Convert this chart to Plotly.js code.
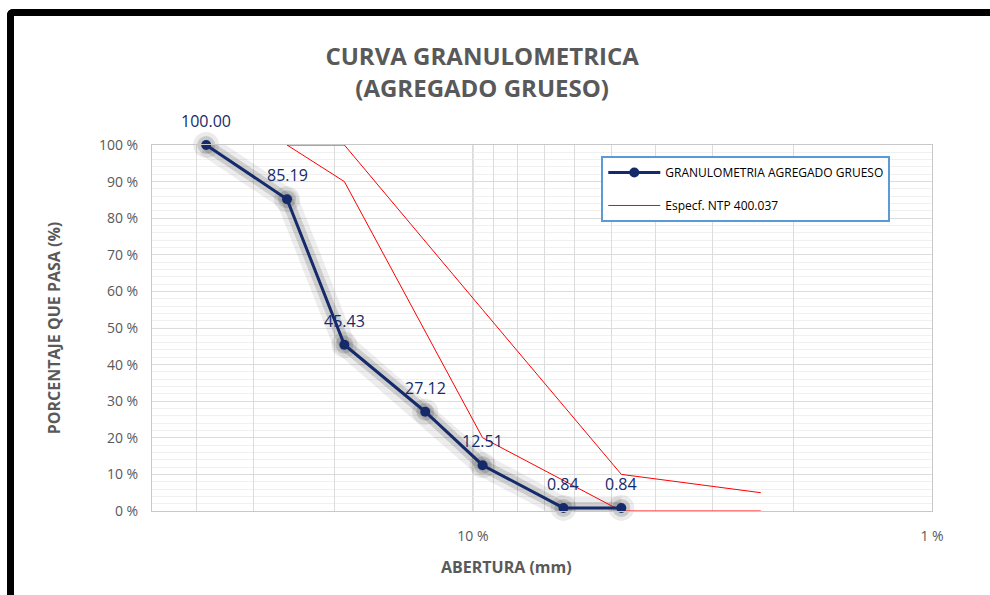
<!DOCTYPE html>
<html>
<head>
<meta charset="utf-8">
<script src="https://cdn.plot.ly/plotly-3.0.1.min.js"></script>
<style>
  html, body { margin: 0; padding: 0; background: #fff; overflow: hidden; }
  #frame {
    position: absolute; left: 7px; top: 9px; width: 1000px; height: 600px;
    border-top: 7px solid #000; border-left: 7px solid #000; border-top-left-radius: 6px;
    pointer-events: none; z-index: 10;
  }
  #chart { position: absolute; left: 0; top: 0; width: 990px; height: 595px; }
</style>
</head>
<body>
<div id="chart"></div>
<div id="frame"></div>
<script>
// aberturas (mm) and % que pasa
const sieves = [38.1, 25.4, 19.05, 12.7, 9.525, 6.35, 4.75];
const passing = [100.00, 85.19, 45.43, 27.12, 12.51, 0.84, 0.84];

// especificacion NTP 400.037
const specSieves = [25.4, 19.05, 9.525, 4.75, 2.36];
const specUpper = [100, 100, 55, 10, 5];
const specLower = [100, 90, 20, 0, 0];

// log grid on the x axis, only 10 and 1 get a label
const xGrid = [50, 40, 30, 20, 10, 9, 8, 7, 6, 5, 4, 3, 2, 1];
const xGridText = xGrid.map(v => (v === 10 || v === 1) ? v + ' %' : '');

const navy = '#142a6b';
const grey = '#595959';

const data = [
  // soft shadow under the main curve
  {
    x: sieves, y: passing, mode: 'lines+markers', hoverinfo: 'skip', showlegend: false,
    line: { color: 'rgba(0,0,0,0.07)', width: 22 },
    marker: { size: 26, color: 'rgba(0,0,0,0.08)' }, cliponaxis: false
  },
  {
    x: sieves, y: passing, mode: 'lines+markers', hoverinfo: 'skip', showlegend: false,
    line: { color: 'rgba(0,0,0,0.13)', width: 12 },
    marker: { size: 18, color: 'rgba(0,0,0,0.14)' }, cliponaxis: false
  },
  {
    x: specSieves, y: specUpper, mode: 'lines', name: 'Especf. NTP 400.037',
    legendgroup: 'spec', legendrank: 2,
    line: { color: '#ff0000', width: 1 }
  },
  {
    x: specSieves, y: specLower, mode: 'lines', name: 'Especf. NTP 400.037',
    legendgroup: 'spec', showlegend: false,
    line: { color: '#ff0000', width: 1 }
  },
  {
    x: sieves, y: passing, mode: 'lines+markers', name: 'GRANULOMETRIA AGREGADO GRUESO',
    legendgroup: 'gran', legendrank: 1, cliponaxis: false,
    line: { color: navy, width: 3 },
    marker: { size: 10, color: navy }
  }
];

// data labels above each point
const labels = sieves.map((s, i) => ({
  x: Math.log10(s), y: passing[i], xref: 'x', yref: 'y',
  text: passing[i].toFixed(2), showarrow: false,
  yshift: 24, font: { family: 'Open Sans, sans-serif', size: 16, color: navy }
}));

const layout = {
  width: 990,
  height: 595,
  margin: { l: 152, r: 58, t: 145, b: 84 },
  paper_bgcolor: '#fff',
  plot_bgcolor: '#fff',
  font: { family: 'Open Sans, sans-serif', color: grey },
  title: {
    text: '<b>CURVA GRANULOMETRICA<br>(AGREGADO GRUESO)</b>',
    xref: 'container', x: 0.487, xanchor: 'center',
    yref: 'container', y: 0.89, yanchor: 'top',
    font: { family: 'Open Sans, sans-serif', size: 24, color: grey }
  },
  xaxis: {
    type: 'log',
    range: [Math.log10(50), 0],
    tickmode: 'array',
    tickvals: xGrid,
    ticktext: xGridText,
    ticks: '',
    ticklabelstandoff: 12,
    tickfont: { size: 14, color: grey },
    showgrid: true,
    gridcolor: '#dcdcdc',
    showline: true, linecolor: '#c8c8c8', mirror: true,
    zeroline: false
  },
  yaxis: {
    range: [0, 100],
    dtick: 10,
    ticksuffix: ' %',
    ticks: '',
    ticklabelstandoff: 10,
    tickfont: { size: 14, color: grey },
    showgrid: true,
    gridcolor: '#dcdcdc',
    minor: { dtick: 2, showgrid: true, gridcolor: '#f0f0f0', ticks: '' },
    showline: true, linecolor: '#c8c8c8', mirror: true,
    zeroline: false,
    title: { text: '<b>PORCENTAJE QUE PASA (%)</b>', standoff: 34, font: { size: 16, color: grey } }
  },
  annotations: labels.concat([
    { text: '<b>ABERTURA (mm)</b>', xref: 'paper', yref: 'paper',
      x: (506 - 152) / 780, y: -56 / 366, xanchor: 'center', yanchor: 'middle',
      showarrow: false, font: { size: 16, color: grey } }
  ]),
  shapes: [
    // darker decade line at 10
    { type: 'line', xref: 'x', yref: 'paper', x0: 10, x1: 10, y0: 0, y1: 1,
      line: { color: '#b4b4b4', width: 1 }, layer: 'below' }
  ],
  legend: {
    x: 0.576, xanchor: 'left',
    y: 0.97, yanchor: 'top',
    bgcolor: '#fff',
    bordercolor: '#5b9bd5',
    borderwidth: 2,
    traceorder: 'grouped',
    tracegroupgap: 14,
    itemwidth: 52,
    font: { family: 'Open Sans, sans-serif', size: 12, color: '#000' }
  },
  showlegend: true
};

Plotly.newPlot('chart', data, layout, { displayModeBar: false, staticPlot: true });
</script>
</body>
</html>
